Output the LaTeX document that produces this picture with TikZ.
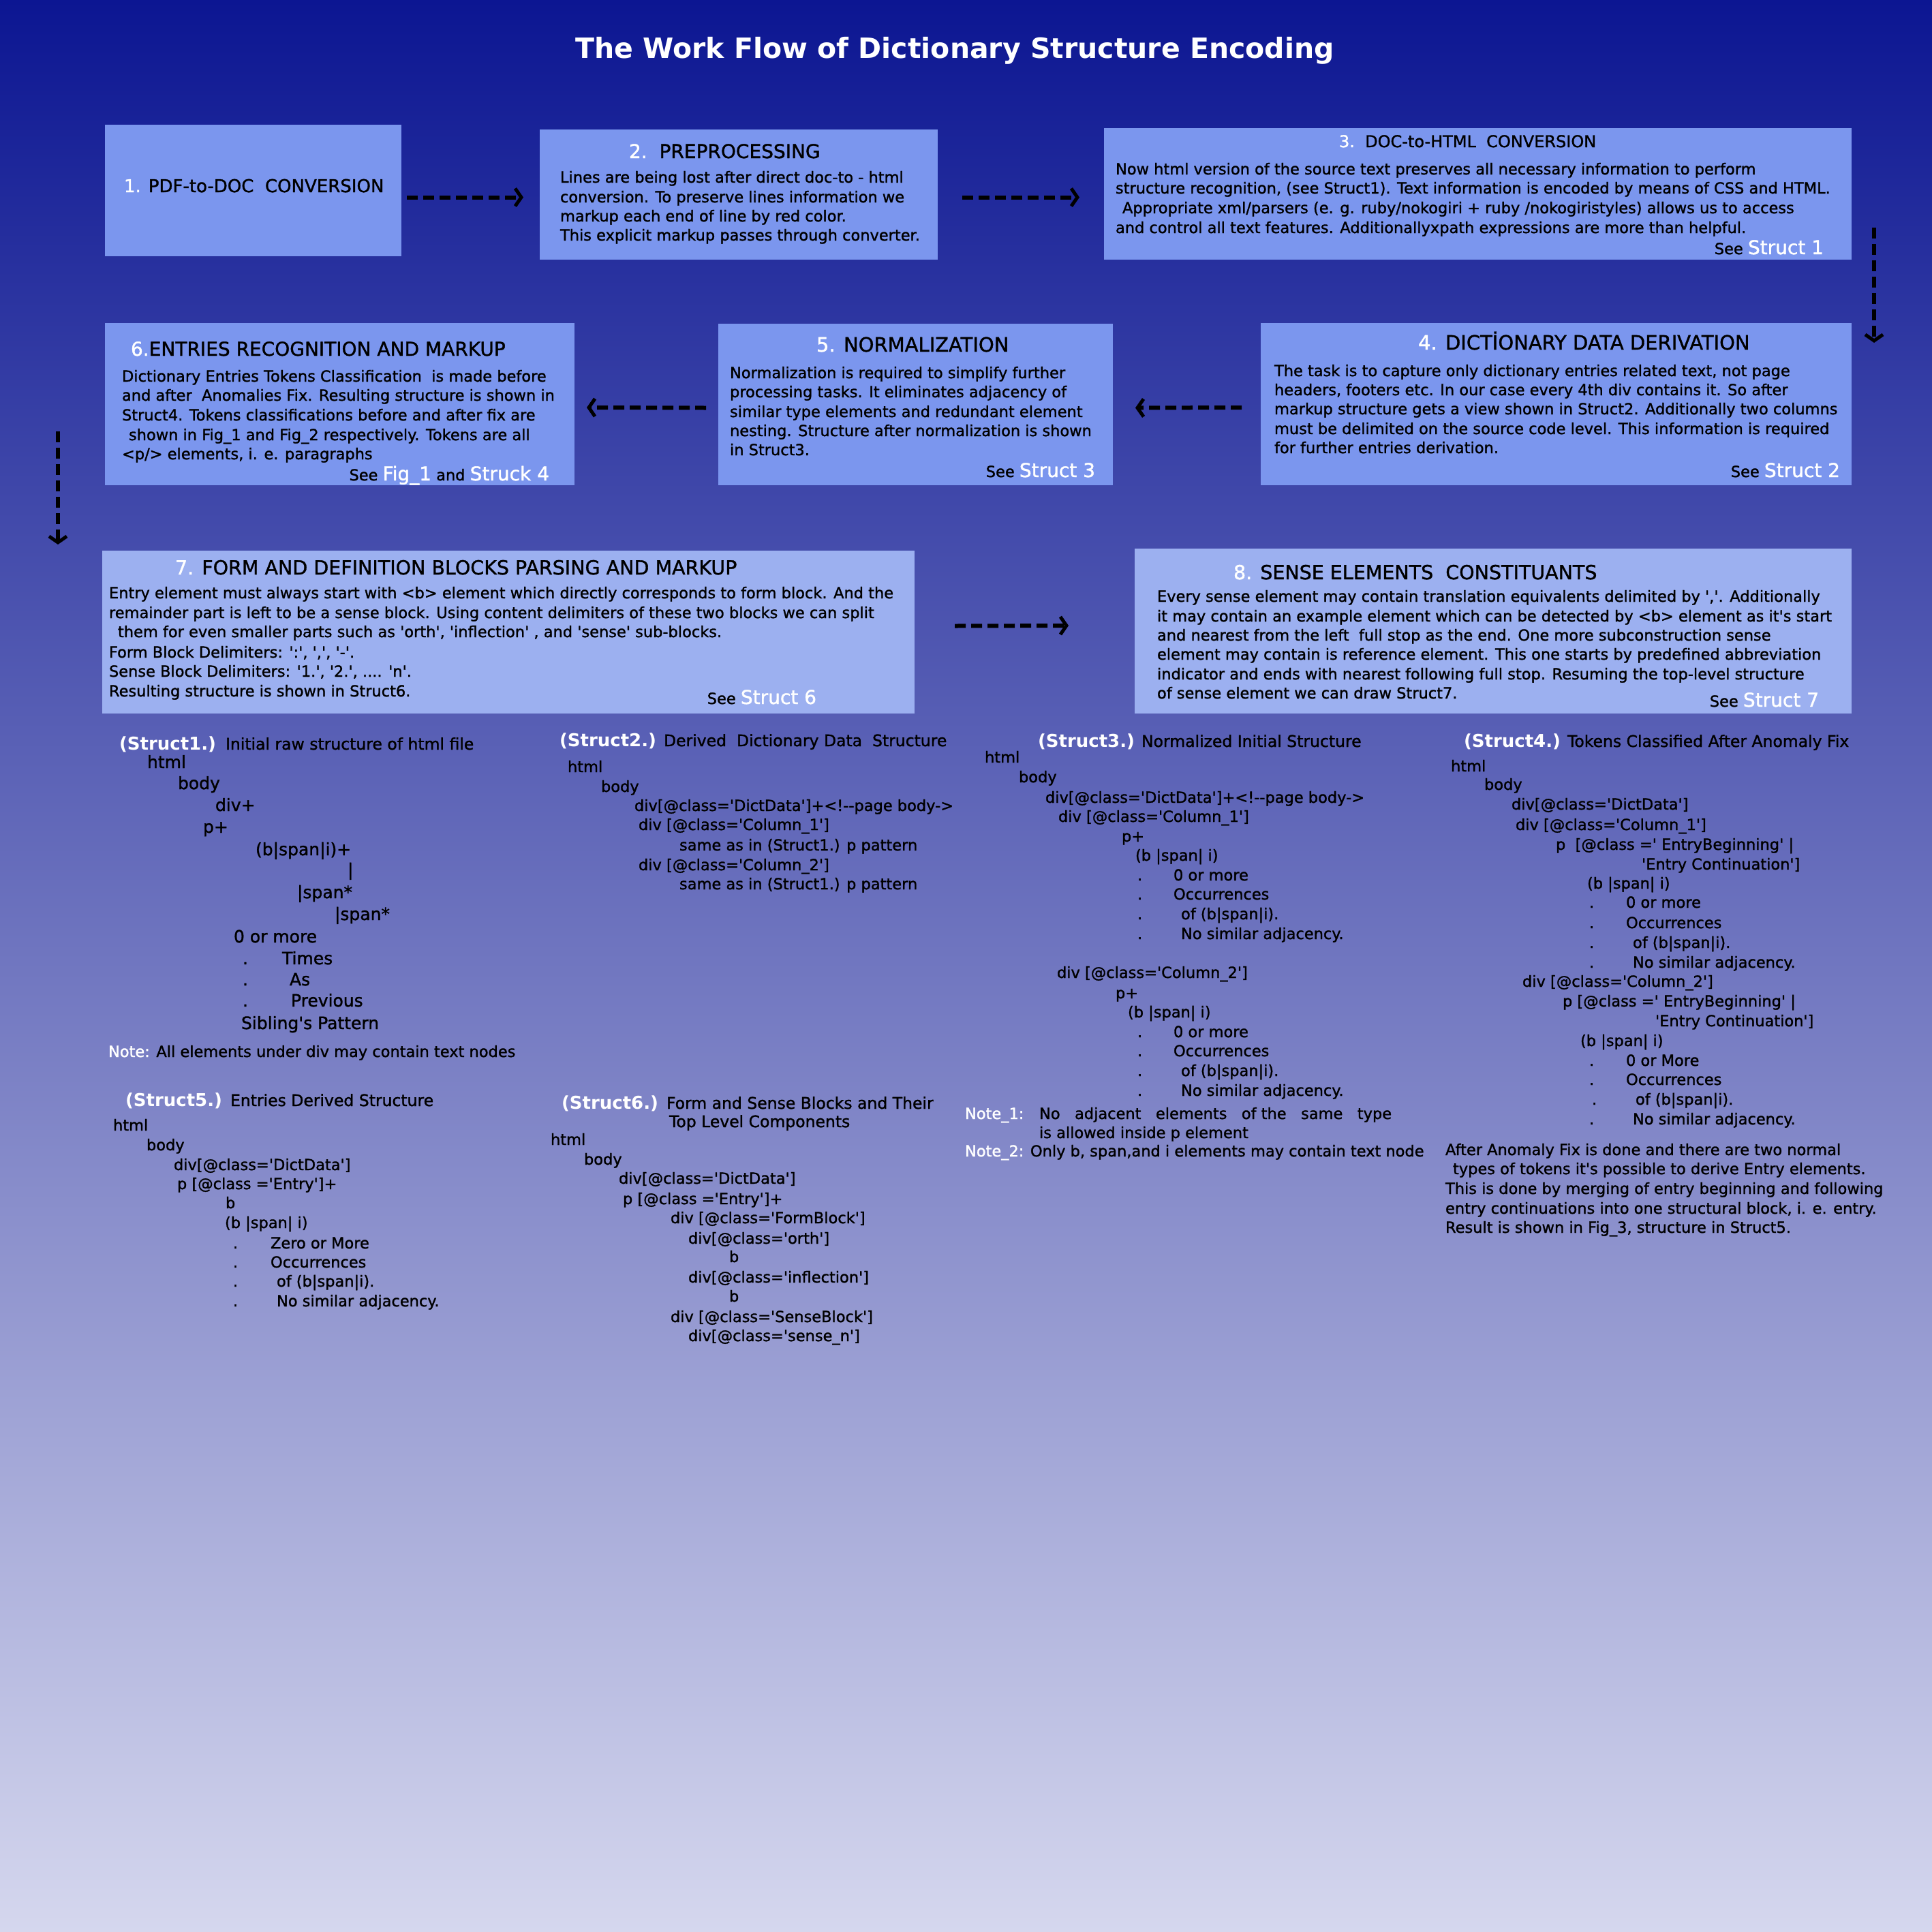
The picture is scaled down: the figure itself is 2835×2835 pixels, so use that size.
\documentclass[tikz,border=0pt]{standalone}
\usepackage{fontspec}
\newfontfamily\djfont{DejaVu Sans}[RawFeature={embolden=1.3}]
\newfontfamily\djbold{DejaVu Sans Bold}
\usetikzlibrary{arrows.meta,calc}
\definecolor{bgtop}{RGB}{12,22,146}
\definecolor{bgbot}{RGB}{213,215,238}
\definecolor{boxA}{RGB}{123,150,238}
\definecolor{boxB}{RGB}{156,176,240}
\newcommand\PutLine[5][]{\node[ln,#1] (#2) at (#3,#4) {#5};}
\newcommand\DotLine[5]{\node[ln] (#1-d) at (#2,#4) {.};\node[ln] (#1) at (#3,#4) {#5};}
\newcommand\Wt[1]{\textcolor{white}{#1}}
\newcommand\WL[1]{{\fontsize{28}{30}\selectfont\color{white}#1}}
\begin{document}
\begin{tikzpicture}[x=1pt,y=-1pt,
 ln/.style={anchor=base west,inner sep=0pt,outer sep=0pt,font=\djfont\fontsize{22.5}{25}\selectfont,text=black},
 ttl/.style={font=\djfont\fontsize{#1}{30}\selectfont},
 big/.style={font=\djfont\fontsize{25}{28}\selectfont},
 sdesc/.style={font=\djfont\fontsize{23.5}{26}\selectfont},
 slab/.style={font=\djbold\fontsize{26}{30}\selectfont,text=white},
 see/.style={anchor=base east},
 box/.style={anchor=north west,inner sep=0pt,outer sep=0pt,draw=none},
 flow/.style={draw=black,line width=6pt,dash pattern=on 16pt off 8pt,
   -{Straight Barb[length=9pt,width=26pt,line width=5pt]}}]
% background
\shade[top color=bgtop,bottom color=bgbot] (0,0) rectangle (2835,2835);
% title
\node[anchor=base,inner sep=0pt,font=\djbold\fontsize{41}{44}\selectfont,text=white] (title) at (1401,85) {The Work Flow of Dictionary Structure Encoding};
% boxes
\node[box,fill=boxA,minimum width=435,minimum height=193] (b1) at (154,183) {};
\node[box,fill=boxA,minimum width=584,minimum height=191] (b2) at (792,190) {};
\node[box,fill=boxA,minimum width=1097,minimum height=193] (b3) at (1620,188) {};
\node[box,fill=boxA,minimum width=867,minimum height=238] (b4) at (1850,474) {};
\node[box,fill=boxA,minimum width=579,minimum height=237] (b5) at (1054,475) {};
\node[box,fill=boxA,minimum width=689,minimum height=238] (b6) at (154,474) {};
\node[box,fill=boxB,minimum width=1192,minimum height=239] (b7) at (150,808) {};
\node[box,fill=boxB,minimum width=1052,minimum height=242] (b8) at (1665,805) {};
% arrows
\draw[flow] ($(b1.east)+(8,10)$) -- ($(b2.west)+(-24,4)$);
\draw[flow] ($(b2.east)+(36,4)$) -- ($(b3.west)+(-36,5)$);
\draw[flow] ($(b3.south east)+(33,-47)$) -- ($(b4.north east)+(33,29)$);
\draw[flow] ($(b4.west)+(-28,5)$) -- ($(b5.east)+(33,5)$);
\draw[flow] ($(b5.west)+(-18,5)$) -- ($(b6.east)+(18,5)$);
\draw[flow] ($(b6.south west)+(-69,-79)$) -- ($(b7.north west)+(-65,-9)$);
\draw[flow] ($(b7.east)+(59,-9)$) -- ($(b8.west)+(-97,-8)$);
% box 1
\PutLine[ttl=26]{t1}{182}{282}{\Wt{1.} PDF-to-DOC\ \ CONVERSION}
% box 2
\PutLine[ttl=28]{t2}{923}{232}{\Wt{2.}\ \ PREPROCESSING}
\PutLine{b2a}{822}{268}{Lines are being lost after direct doc-to - html}
\PutLine{b2b}{822}{297}{conversion. To preserve lines information we}
\PutLine{b2c}{822}{325}{markup each end of line by red color.}
\PutLine{b2d}{822}{353}{This explicit markup passes through converter.}
% box 3
\PutLine[ttl=24]{t3}{1965}{216}{\Wt{3.}\ \ DOC-to-HTML\ \ CONVERSION}
\PutLine{b3a}{1637}{256}{Now html version of the source text preserves all necessary information to perform}
\PutLine{b3b}{1637}{284}{structure recognition, (see Struct1). Text information is encoded by means of CSS and HTML.}
\PutLine{b3c}{1647}{313}{Appropriate xml/parsers (e. g. ruby/nokogiri + ruby /nokogiristyles) allows us to access}
\PutLine{b3d}{1637}{342}{and control all text features. Additionallyxpath expressions are more than helpful.}
\PutLine[see]{s3}{2676}{373}{See \WL{Struct 1}}
% box 4
\PutLine[ttl=29]{t4}{2081}{513}{\Wt{4.} DICTİONARY DATA DERIVATION}
\PutLine{b4a}{1870}{552}{The task is to capture only dictionary entries related text, not page}
\PutLine{b4b}{1870}{580}{headers, footers etc. In our case every 4th div contains it. So after}
\PutLine{b4c}{1870}{608}{markup structure gets a view shown in Struct2. Additionally two columns}
\PutLine{b4d}{1870}{637}{must be delimited on the source code level. This information is required}
\PutLine{b4e}{1870}{665}{for further entries derivation.}
\PutLine[see]{s4}{2700}{700}{See \WL{Struct 2}}
% box 5
\PutLine[ttl=29]{t5}{1198}{516}{\Wt{5.} NORMALIZATION}
\PutLine{b5a}{1071}{555}{Normalization is required to simplify further}
\PutLine{b5b}{1071}{583}{processing tasks. It eliminates adjacency of}
\PutLine{b5c}{1071}{612}{similar type elements and redundant element}
\PutLine{b5d}{1071}{640}{nesting. Structure after normalization is shown}
\PutLine{b5e}{1071}{668}{in Struct3.}
\PutLine[see]{s5}{1607}{700}{See \WL{Struct 3}}
% box 6
\PutLine[ttl=28]{t6}{192}{522}{\Wt{6.}ENTRIES RECOGNITION AND MARKUP}
\PutLine{b6a}{179}{560}{Dictionary Entries Tokens Classification\ \ is made before}
\PutLine{b6b}{179}{588}{and after\ \ Anomalies Fix. Resulting structure is shown in}
\PutLine{b6c}{179}{617}{Struct4. Tokens classifications before and after fix are}
\PutLine{b6d}{189}{646}{shown in Fig\_1 and Fig\_2 respectively. Tokens are all}
\PutLine{b6e}{179}{674}{<p/> elements, i. e. paragraphs}
\PutLine[see]{s6}{806}{705}{See \WL{Fig\_1} and \WL{Struck 4}}
% box 7
\PutLine[ttl=28.5]{t7}{257}{843}{\Wt{7.} FORM AND DEFINITION BLOCKS PARSING AND MARKUP}
\PutLine{b7a}{160}{878}{Entry element must always start with <b> element which directly corresponds to form block. And the}
\PutLine{b7b}{160}{907}{remainder part is left to be a sense block. Using content delimiters of these two blocks we can split}
\PutLine{b7c}{173}{935}{them for even smaller parts such as 'orth', 'inflection' , and 'sense' sub-blocks.}
\PutLine{b7d}{160}{965}{Form Block Delimiters: ':', ',', '-'.}
\PutLine{b7e}{160}{993}{Sense Block Delimiters: '1.', '2.', .... 'n'.}
\PutLine{b7f}{160}{1022}{Resulting structure is shown in Struct6.}
\PutLine[see]{s7}{1198}{1033}{See \WL{Struct 6}}
% box 8
\PutLine[ttl=28.5]{t8}{1810}{850}{\Wt{8.} SENSE ELEMENTS\ \ CONSTITUANTS}
\PutLine{b8a}{1698}{883}{Every sense element may contain translation equivalents delimited by ','. Additionally}
\PutLine{b8b}{1698}{912}{it may contain an example element which can be detected by <b> element as it's start}
\PutLine{b8c}{1698}{940}{and nearest from the left\ \ full stop as the end. One more subconstruction sense}
\PutLine{b8d}{1698}{968}{element may contain is reference element. This one starts by predefined abbreviation}
\PutLine{b8e}{1698}{997}{indicator and ends with nearest following full stop. Resuming the top-level structure}
\PutLine{b8f}{1698}{1025}{of sense element we can draw Struct7.}
\PutLine[see]{s8}{2669}{1037}{See \WL{Struct 7}}
% Struct1
\PutLine[slab]{st1}{175}{1100}{(Struct1.)}
\PutLine[sdesc]{st1d}{331}{1100}{Initial raw structure of html file}
\PutLine[big]{st1a}{216}{1127}{html}
\PutLine[big]{st1b}{261}{1158}{body}
\PutLine[big]{st1c}{316}{1190}{div+}
\PutLine[big]{st1e}{298}{1222}{p+}
\PutLine[big]{st1f}{375}{1255}{(b|span|i)+}
\PutLine[big]{st1g}{510}{1285}{|}
\PutLine[big]{st1h}{436}{1318}{|span*}
\PutLine[big]{st1i}{491}{1350}{|span*}
\PutLine[big]{st1j}{343}{1383}{0 or more}
\PutLine[big]{st1kd}{356}{1415}{.}
\PutLine[big]{st1k}{414}{1415}{Times}
\PutLine[big]{st1ld}{356}{1446}{.}
\PutLine[big]{st1l}{425}{1446}{As}
\PutLine[big]{st1md}{356}{1477}{.}
\PutLine[big]{st1m}{427}{1477}{Previous}
\PutLine[big]{st1n}{354}{1510}{Sibling's Pattern}
\PutLine{st1note}{159}{1551}{\Wt{Note:} All elements under div may contain text nodes}
% Struct2
\PutLine[slab]{st2}{821}{1095}{(Struct2.)}
\PutLine[sdesc]{st2d}{974}{1095}{Derived\ \ Dictionary Data\ \ Structure}
\PutLine{st2a}{833}{1133}{html}
\PutLine{st2b}{882}{1162}{body}
\PutLine{st2c}{931}{1190}{div[@class='DictData']+<!--page body->}
\PutLine{st2e}{937}{1218}{div [@class='Column\_1']}
\PutLine{st2f}{997}{1248}{same as in (Struct1.) p pattern}
\PutLine{st2g}{937}{1277}{div [@class='Column\_2']}
\PutLine{st2h}{997}{1305}{same as in (Struct1.) p pattern}
% Struct3
\PutLine[slab]{st3}{1523}{1096}{(Struct3.)}
\PutLine[sdesc]{st3d}{1675}{1096}{Normalized Initial Structure}
\PutLine{st3a}{1445}{1119}{html}
\PutLine{st3b}{1495}{1148}{body}
\PutLine{st3c}{1534}{1178}{div[@class='DictData']+<!--page body->}
\PutLine{st3e}{1553}{1206}{div [@class='Column\_1']}
\PutLine{st3f}{1646}{1235}{p+}
\PutLine{st3g}{1666}{1263}{(b |span| i)}
\DotLine{st3h}{1669}{1722}{1292}{0 or more}
\DotLine{st3i}{1669}{1722}{1320}{Occurrences}
\DotLine{st3j}{1669}{1733}{1349}{of (b|span|i).}
\DotLine{st3k}{1669}{1733}{1378}{No similar adjacency.}
\PutLine{st3l}{1551}{1435}{div [@class='Column\_2']}
\PutLine{st3m}{1637}{1465}{p+}
\PutLine{st3n}{1655}{1493}{(b |span| i)}
\DotLine{st3o}{1669}{1722}{1522}{0 or more}
\DotLine{st3p}{1669}{1722}{1550}{Occurrences}
\DotLine{st3q}{1669}{1733}{1579}{of (b|span|i).}
\DotLine{st3r}{1669}{1733}{1608}{No similar adjacency.}
\PutLine{st3n1}{1416}{1642}{\Wt{Note\_1:}}
\PutLine{st3n1a}{1525}{1642}{No\ \ \ adjacent\ \ \ elements\ \ \ of the\ \ \ same\ \ \ type}
\PutLine{st3n1b}{1525}{1670}{is allowed inside p element}
\PutLine{st3n2}{1416}{1697}{\Wt{Note\_2:} Only b, span,and i elements may contain text node}
% Struct4
\PutLine[slab]{st4}{2148}{1096}{(Struct4.)}
\PutLine[sdesc]{st4d}{2300}{1096}{Tokens Classified After Anomaly Fix}
\PutLine{st4a}{2129}{1132}{html}
\PutLine{st4b}{2178}{1159}{body}
\PutLine{st4c}{2218}{1188}{div[@class='DictData']}
\PutLine{st4e}{2224}{1218}{div [@class='Column\_1']}
\PutLine{st4f}{2283}{1247}{p\ \ [@class =' EntryBeginning' |}
\PutLine{st4g}{2409}{1276}{'Entry Continuation']}
\PutLine{st4h}{2329}{1304}{(b |span| i)}
\DotLine{st4i}{2332}{2386}{1332}{0 or more}
\DotLine{st4j}{2332}{2386}{1362}{Occurrences}
\DotLine{st4k}{2332}{2396}{1391}{of (b|span|i).}
\DotLine{st4l}{2332}{2396}{1420}{No similar adjacency.}
\PutLine{st4m}{2234}{1448}{div [@class='Column\_2']}
\PutLine{st4n}{2293}{1477}{p [@class =' EntryBeginning' |}
\PutLine{st4o}{2429}{1506}{'Entry Continuation']}
\PutLine{st4p}{2319}{1535}{(b |span| i)}
\DotLine{st4q}{2332}{2386}{1564}{0 or More}
\DotLine{st4r}{2332}{2386}{1592}{Occurrences}
\DotLine{st4s}{2336}{2400}{1621}{of (b|span|i).}
\DotLine{st4t}{2332}{2396}{1650}{No similar adjacency.}
\PutLine{st4u}{2121}{1695}{After Anomaly Fix is done and there are two normal}
\PutLine{st4v}{2132}{1723}{types of tokens it's possible to derive Entry elements.}
\PutLine{st4w}{2121}{1752}{This is done by merging of entry beginning and following}
\PutLine{st4x}{2121}{1781}{entry continuations into one structural block, i. e. entry.}
\PutLine{st4y}{2121}{1809}{Result is shown in Fig\_3, structure in Struct5.}
% Struct5
\PutLine[slab]{st5}{184}{1623}{(Struct5.)}
\PutLine[sdesc]{st5d}{338}{1623}{Entries Derived Structure}
\PutLine{st5a}{166}{1659}{html}
\PutLine{st5b}{215}{1688}{body}
\PutLine{st5c}{255}{1717}{div[@class='DictData']}
\PutLine{st5e}{260}{1745}{p [@class ='Entry']+}
\PutLine{st5f}{331}{1773}{b}
\PutLine{st5g}{330}{1802}{(b |span| i)}
\DotLine{st5h}{342}{397}{1832}{Zero or More}
\DotLine{st5i}{342}{397}{1860}{Occurrences}
\DotLine{st5j}{342}{406}{1888}{of (b|span|i).}
\DotLine{st5k}{342}{406}{1917}{No similar adjacency.}
% Struct6
\PutLine[slab]{st6}{824}{1627}{(Struct6.)}
\PutLine[sdesc]{st6d}{978}{1627}{Form and Sense Blocks and Their}
\PutLine[sdesc]{st6d2}{982}{1654}{Top Level Components}
\PutLine{st6a}{808}{1680}{html}
\PutLine{st6b}{857}{1709}{body}
\PutLine{st6c}{908}{1737}{div[@class='DictData']}
\PutLine{st6e}{914}{1767}{p [@class ='Entry']+}
\PutLine{st6f}{984}{1795}{div [@class='FormBlock']}
\PutLine{st6g}{1010}{1825}{div[@class='orth']}
\PutLine{st6h}{1070}{1852}{b}
\PutLine{st6i}{1010}{1882}{div[@class='inflection']}
\PutLine{st6j}{1070}{1910}{b}
\PutLine{st6k}{984}{1940}{div [@class='SenseBlock']}
\PutLine{st6l}{1010}{1968}{div[@class='sense\_n']}
\end{tikzpicture}
\end{document}
